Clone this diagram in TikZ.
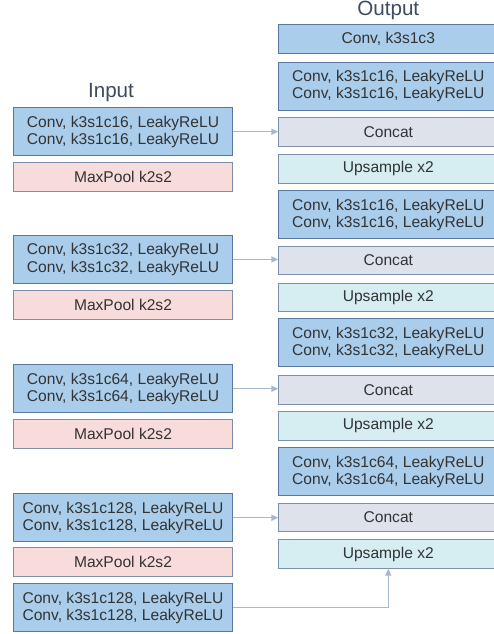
\documentclass[tikz,border=0pt]{standalone}
\usepackage{fontspec}
\setmainfont{Liberation Sans}
\usetikzlibrary{arrows.meta}

\definecolor{convfill}{HTML}{A9CDEB}
\definecolor{convline}{HTML}{5A77A0}
\definecolor{catfill}{HTML}{DEE2EB}
\definecolor{upfill}{HTML}{D6EDF1}
\definecolor{poolfill}{HTML}{F8DCDC}
\definecolor{boxline}{HTML}{7D8EAE}
\definecolor{txt}{HTML}{333333}
\definecolor{labeltxt}{HTML}{3E4A5E}
\definecolor{link}{HTML}{A8B7CD}

\tikzset{
  layer/.style={draw=boxline, line width=0.9pt, minimum width=219pt, inner sep=0pt,
    anchor=north, align=center, text=txt,
    font=\fontsize{15.6}{17.3}\selectfont},
  convtwo/.style={layer, draw=convline, fill=convfill, minimum height=48pt},
  convone/.style={layer, draw=convline, fill=convfill, minimum height=28.7pt},
  pool/.style={layer, fill=poolfill, minimum height=28.7pt},
  cat/.style={layer, fill=catfill, minimum height=28.5pt},
  upx/.style={layer, fill=upfill, minimum height=28.5pt},
  title/.style={text=labeltxt, font=\fontsize{20.6}{22}\selectfont, anchor=base},
  skip/.style={draw=link, line width=1.3pt, -{Triangle[length=7pt,width=6pt]}}
}

\begin{document}
\begin{tikzpicture}[x=1pt,y=1pt]
\useasboundingbox (0,0) rectangle (494,-634);

% encoder (left column)
\node[title] (inlabel) at (111,-97.7) {Input};
\node[convtwo] (l1) at (123,-107.3) {Conv, k3s1c16, LeakyReLU\\Conv, k3s1c16, LeakyReLU};
\node[pool] (p1) at (123,-162) {MaxPool k2s2};
\node[convtwo] (l2) at (123,-235) {Conv, k3s1c32, LeakyReLU\\Conv, k3s1c32, LeakyReLU};
\node[pool] (p2) at (123,-290) {MaxPool k2s2};
\node[convtwo] (l3) at (123,-364.3) {Conv, k3s1c64, LeakyReLU\\Conv, k3s1c64, LeakyReLU};
\node[pool] (p3) at (123,-419) {MaxPool k2s2};
\node[convtwo] (l4) at (123,-493.3) {Conv, k3s1c128, LeakyReLU\\Conv, k3s1c128, LeakyReLU};
\node[pool] (p4) at (123,-547.3) {MaxPool k2s2};
\node[convtwo] (l5) at (123,-583.3) {Conv, k3s1c128, LeakyReLU\\Conv, k3s1c128, LeakyReLU};

% decoder (right column)
\node[title] (outlabel) at (388.3,-15.7) {Output};
\node[convone] (r0) at (388.3,-24) {Conv, k3s1c3};
\node[convtwo] (r1) at (388.3,-61.7) {Conv, k3s1c16, LeakyReLU\\Conv, k3s1c16, LeakyReLU};
\node[cat] (c1) at (388.3,-117) {Concat};
\node[upx] (u1) at (388.3,-154) {Upsample x2};
\node[convtwo] (r2) at (388.3,-190.3) {Conv, k3s1c16, LeakyReLU\\Conv, k3s1c16, LeakyReLU};
\node[cat] (c2) at (388.3,-245.7) {Concat};
\node[upx] (u2) at (388.3,-282.7) {Upsample x2};
\node[convtwo] (r3) at (388.3,-318.3) {Conv, k3s1c32, LeakyReLU\\Conv, k3s1c32, LeakyReLU};
\node[cat] (c3) at (388.3,-375) {Concat};
\node[upx] (u3) at (388.3,-411) {Upsample x2};
\node[convtwo] (r4) at (388.3,-447.2) {Conv, k3s1c64, LeakyReLU\\Conv, k3s1c64, LeakyReLU};
\node[cat] (c4) at (388.3,-502.7) {Concat};
\node[upx] (u4) at (388.3,-539.3) {Upsample x2};

% skip connections
\draw[skip] (l1.east) -- (l1.east -| c1.west);
\draw[skip] (l2.east) -- (l2.east -| c2.west);
\draw[skip] (l3.east) -- (l3.east -| c3.west);
\draw[skip] (l4.east) -- (l4.east -| c4.west);
\draw[skip] (l5.east) -| (u4.south);
\end{tikzpicture}
\end{document}
